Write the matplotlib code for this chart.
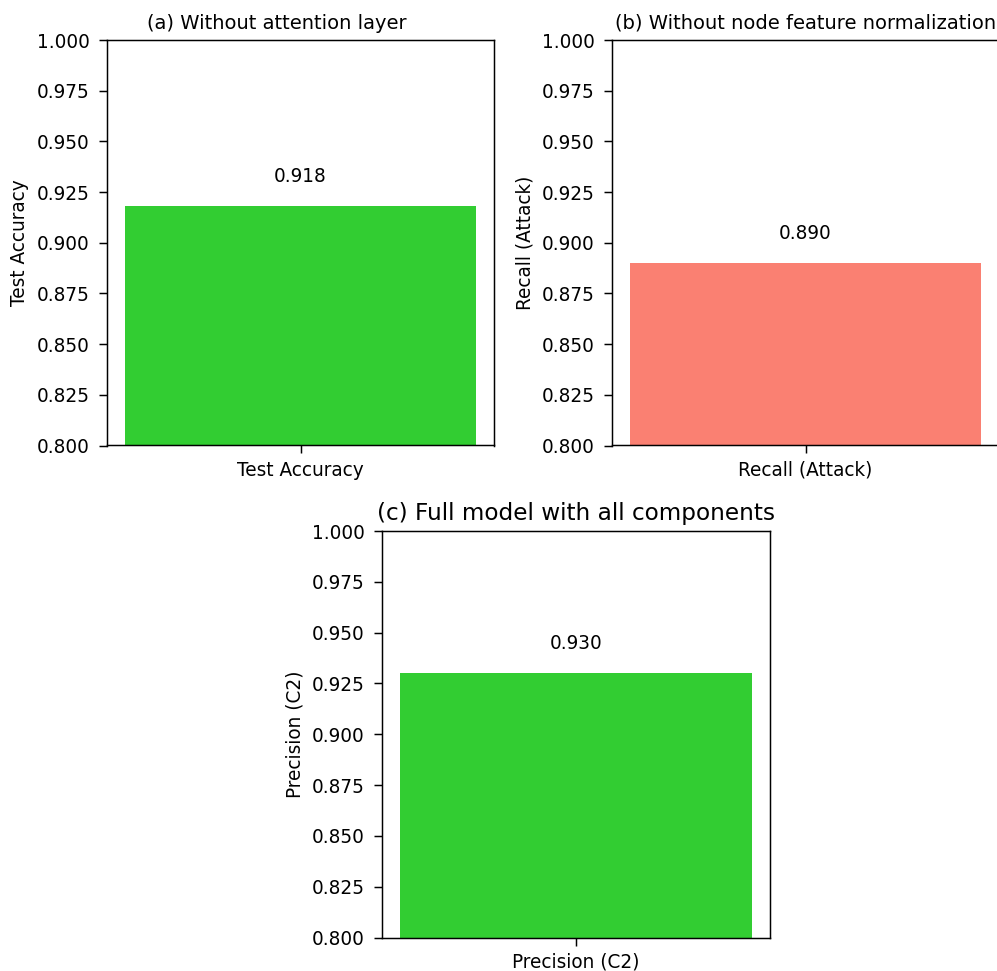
import matplotlib
matplotlib.use("Agg")
import matplotlib.pyplot as plt

# panel data
titles = ["(a) Without attention layer",
          "(b) Without node feature normalization",
          "(c) Full model with all components"]
metrics = ["Test Accuracy", "Recall (Attack)", "Precision (C2)"]
values = [0.918, 0.890, 0.930]
colors = ["limegreen", "salmon", "limegreen"]
yticks = [0.800, 0.825, 0.850, 0.875, 0.900, 0.925, 0.950, 0.975, 1.000]

# original looks like a 10pt figure saved at ~133 dpi
s = 4 / 3
plt.rcParams.update({
    "font.size": 10 * s,
    "axes.linewidth": 0.8 * s,
    "xtick.major.size": 6,
    "ytick.major.size": 6,
    "xtick.major.width": 0.8 * s,
    "ytick.major.width": 0.8 * s,
    "xtick.major.pad": 5,
    "ytick.major.pad": 6.5,
    "axes.labelpad": 4 * s,
    "axes.titlepad": 6 * s,
})

W, H = 997, 971
fig = plt.figure(figsize=(W / 100, H / 100), dpi=100)

# axes boxes in pixels: left, top, right, bottom
boxes = [(107, 40, 494, 445.5), (612, 40, 999, 445.5), (382, 531, 770, 937.5)]
title_sizes = [14, 14, 16.7]
title_x = [0.44, 0.5, 0.5]  # (a) title sits a bit left of centre in the original

for i, (l, t, r, b) in enumerate(boxes):
    ax = fig.add_axes([l / W, 1 - b / H, (r - l) / W, (b - t) / H])
    ax.bar([metrics[i]], [values[i]], color=colors[i])
    ax.set_ylim(0.8, 1.0)
    ax.set_yticks(yticks)
    ax.set_yticklabels([f"{v:.3f}" for v in yticks])
    ax.set_ylabel(metrics[i])
    ax.set_title(titles[i], fontsize=title_sizes[i], x=title_x[i])
    ax.text(0, values[i] + 0.01, f"{values[i]:.3f}", ha="center", va="bottom")

fig.savefig("out.png", dpi=100)
